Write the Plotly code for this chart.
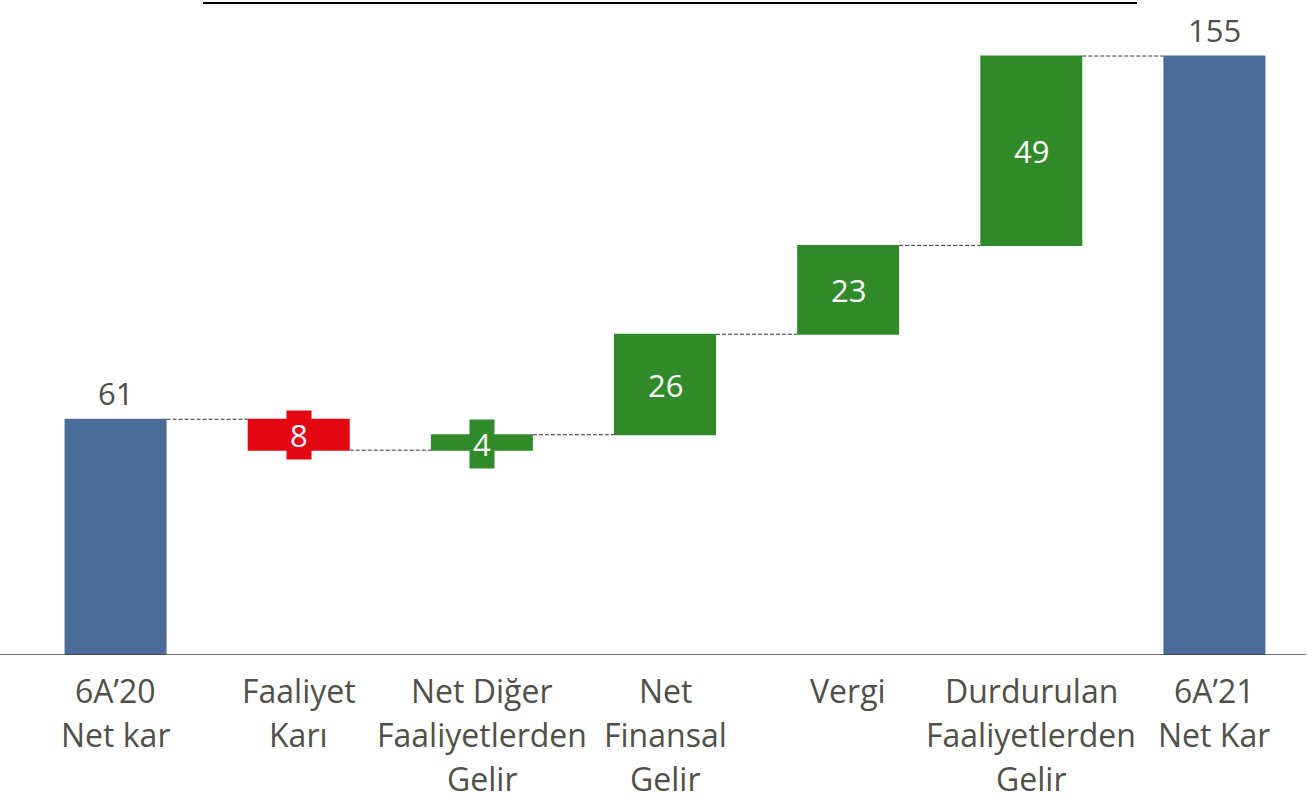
import plotly.graph_objects as go

# Net profit bridge, 6A'20 -> 6A'21
categories = [
    "6A’20<br>Net kar",
    "Faaliyet<br>Karı",
    "Net Diğer<br>Faaliyetlerden<br>Gelir",
    "Net<br>Finansal<br>Gelir",
    "Vergi",
    "Durdurulan<br>Faaliyetlerden<br>Gelir",
    "6A’21<br>Net Kar",
]
values = [61, -8, 4, 26, 23, 49, 155]
measures = ["absolute", "relative", "relative", "relative", "relative", "relative", "total"]

BLUE = "#4B6B99"
RED = "#E30613"
GREEN = "#318A2A"
TEXT = "#505048"
FONT = "Open Sans"

fig = go.Figure(
    go.Waterfall(
        x=list(range(len(categories))),
        y=[v if m != "total" else 0 for v, m in zip(values, measures)],
        measure=measures,
        increasing=dict(marker=dict(color=GREEN)),
        decreasing=dict(marker=dict(color=RED)),
        totals=dict(marker=dict(color=BLUE)),
        connector=dict(line=dict(color="#333333", width=1, dash="4px,2px")),
        text=None,
        hoverinfo="skip",
    )
)

# Value labels
annotations = []
level = 0
for i, (v, m) in enumerate(zip(values, measures)):
    if m in ("absolute", "total"):
        level = v if m == "absolute" else level
        annotations.append(dict(
            x=i, y=level, xref="x", yref="y", text=str(abs(v)), showarrow=False,
            yanchor="bottom", yshift=3, font=dict(family=FONT, size=31, color=TEXT),
        ))
    else:
        start, end = level, level + v
        level = end
        mid = (start + end) / 2
        small = abs(v) < 10
        annotations.append(dict(
            x=i, y=mid, xref="x", yref="y", text=str(abs(v)), showarrow=False,
            font=dict(family=FONT, size=31, color="white"),
            bgcolor=(RED if v < 0 else GREEN) if small else None,
            borderpad=3 if small else 0,
            yshift=-2 if small and v > 0 else 0,
        ))

# Category labels, one annotation per line
for i, cat in enumerate(categories):
    for j, line in enumerate(cat.split("<br>")):
        annotations.append(dict(
            x=i, y=0, xref="x", yref="y", text=line, showarrow=False,
            yanchor="middle", yshift=-35 - 44 * j,
            font=dict(family=FONT, size=32, color=TEXT),
        ))

fig.update_layout(
    width=1307, height=801,
    margin=dict(l=24, r=1, t=0, b=146),
    paper_bgcolor="white", plot_bgcolor="white",
    showlegend=False,
    waterfallgap=0.443,
    xaxis=dict(range=[-0.5, len(categories) - 0.5], showticklabels=False,
               showgrid=False, zeroline=False, showline=False, ticks=""),
    yaxis=dict(range=[0, 169.5], showticklabels=False, showgrid=False,
               zeroline=False, showline=False, ticks=""),
    annotations=annotations,
    shapes=[
        dict(type="line", xref="paper", yref="y", x0=-0.02, x1=1.0, y0=0, y1=0,
             line=dict(color="#404040", width=1.5)),
        dict(type="line", xref="paper", yref="paper",
             x0=(203 - 24) / 1282, x1=(1137 - 24) / 1282,
             y0=(655 - 3) / 655, y1=(655 - 3) / 655,
             line=dict(color="black", width=2)),
    ],
)

fig.write_html("out.html")
